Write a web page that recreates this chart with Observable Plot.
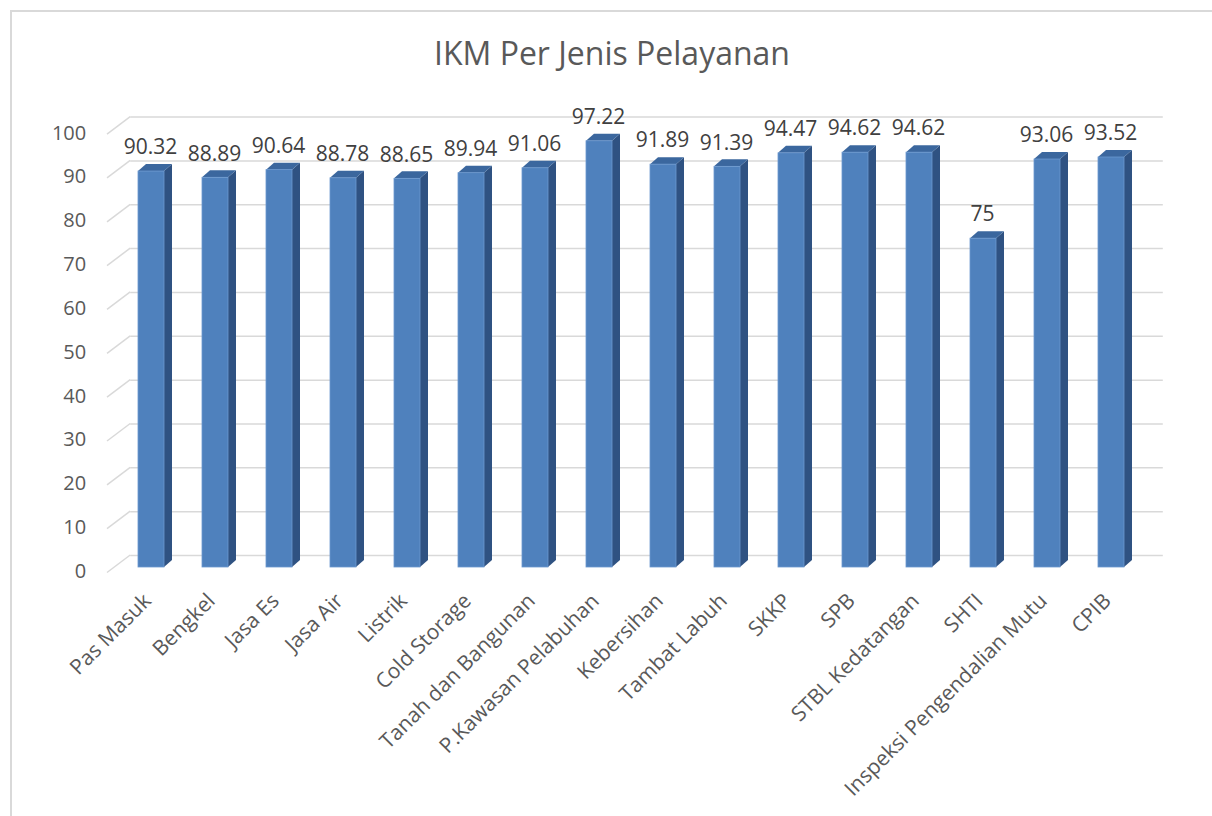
<!DOCTYPE html>
<html>
<head>
<meta charset="utf-8">
<script src="https://cdn.jsdelivr.net/npm/d3@7"></script>
<script src="https://cdn.jsdelivr.net/npm/@observablehq/plot@0.6"></script>
<style>
  html, body { margin: 0; padding: 0; background: #fff; width: 1212px; height: 816px; overflow: hidden; }
  #frame { position: absolute; left: 10px; top: 10px; width: 1230px; height: 830px;
           border-left: 2px solid #d9d9d9; border-top: 2px solid #d9d9d9; box-sizing: border-box; }
  #title { position: absolute; left: 0; top: 31px; width: 1224px; text-align: center;
           font-family: "Open Sans", sans-serif; font-size: 32px; line-height: normal; color: #595959; }
  #chart { position: absolute; left: 0; top: 0; }
</style>
</head>
<body>
<div id="frame"></div>
<div id="chart"></div>
<div id="title">IKM Per Jenis Pelayanan</div>
<script>
const names = ["Pas Masuk", "Bengkel", "Jasa Es", "Jasa Air", "Listrik", "Cold Storage",
  "Tanah dan Bangunan", "P.Kawasan Pelabuhan", "Kebersihan", "Tambat Labuh", "SKKP", "SPB",
  "STBL Kedatangan", "SHTI", "Inspeksi Pengendalian Mutu", "CPIB"];
const scores = [90.32, 88.89, 90.64, 88.78, 88.65, 89.94, 91.06, 97.22, 91.89, 91.39, 94.47, 94.62,
  94.62, 75, 93.06, 93.52];
const scoreLabels = ["90.32", "88.89", "90.64", "88.78", "88.65", "89.94", "91.06", "97.22", "91.89",
  "91.39", "94.47", "94.62", "94.62", "75", "93.06", "93.52"];
const yTicks = [0, 10, 20, 30, 40, 50, 60, 70, 80, 90, 100];

const data = names.map((name, i) => ({name, score: scores[i], label: scoreLabels[i]}));

// 3D styling
const DX = 8, DY = 7;          // bar depth
const BX = 15.5, BY = 12;      // back wall offset
const FX = -7.7, FY = 5.5;     // floor front offset
const FRONT = "#4f81bd", SIDE = "#2f5282", TOP = "#3b679e", GRID = "#d9d9d9";

function gridDiagonals(index, scales, values, dims) {
  const y = scales.y;
  const g = d3.create("svg:g");
  const xl = dims.marginLeft;
  for (const t of yTicks) {
    const yy = y(t);
    g.append("line")
      .attr("x1", xl + FX).attr("y1", yy + FY)
      .attr("x2", xl + BX).attr("y2", yy - BY)
      .attr("stroke", GRID).attr("stroke-width", 1.5);
  }
  return g.node();
}

function barFaces(index, scales, values, dims) {
  const x = scales.x, y = scales.y;
  const bw = x.bandwidth();
  const g = d3.create("svg:g");
  data.forEach(d => {
    const x0 = x(d.name), x1 = x0 + bw, yt = y(d.score), yb = y(0);
    g.append("path")
      .attr("d", `M${x1},${yt}L${x1 + DX},${yt - DY}L${x1 + DX},${yb - DY}L${x1},${yb}Z`)
      .attr("fill", SIDE);
    g.append("path")
      .attr("d", `M${x0},${yt}L${x0 + DX},${yt - DY}L${x1 + DX},${yt - DY}L${x1},${yt}Z`)
      .attr("fill", TOP);
  });
  return g.node();
}

const chart = Plot.plot({
  width: 1212,
  height: 816,
  marginLeft: 114.7,
  marginRight: 64.7,
  marginTop: 128.6,
  marginBottom: 249,
  style: {fontFamily: "Open Sans, sans-serif", fontSize: "20px", color: "#595959", background: "transparent", overflow: "visible"},
  x: {domain: names, paddingInner: 0.59, paddingOuter: 0.295, axis: null},
  y: {domain: [0, 100], axis: null},
  marks: [
    Plot.ruleY(yTicks, {dx: BX, dy: -BY, stroke: GRID, strokeWidth: 1.5}),
    gridDiagonals,
    barFaces,
    Plot.barY(data, {x: "name", y: "score", fill: FRONT, stroke: "#6b98cf", strokeWidth: 0.8}),
    Plot.text(yTicks, {y: d => d, text: d => String(d), frameAnchor: "left", textAnchor: "end",
      dx: -29, dy: 4, fill: "#595959", fontSize: 20}),
    Plot.text(data, {x: "name", y: "score", text: "label", dy: -24, dx: -1, fill: "#404040", fontSize: 21}),
    Plot.text(data, {x: "name", y: () => 0, text: "name", rotate: -45, textAnchor: "end",
      dx: -4, dy: 30, fill: "#595959", fontSize: 21})
  ]
});
document.getElementById("chart").appendChild(chart);
</script>
</body>
</html>
